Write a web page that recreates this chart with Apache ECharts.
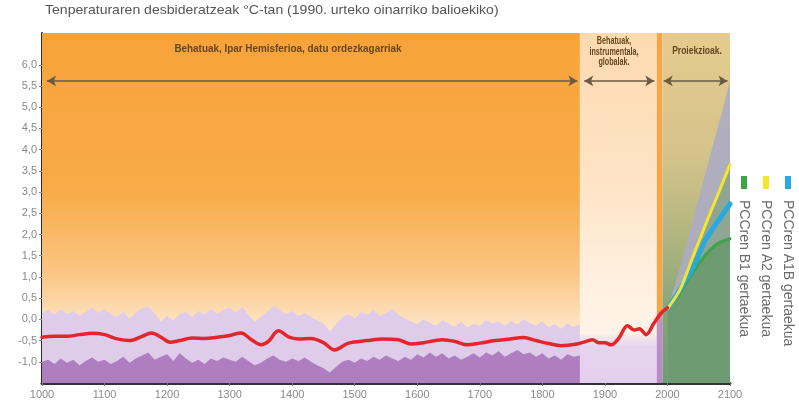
<!DOCTYPE html>
<html><head><meta charset="utf-8">
<script src="https://cdn.jsdelivr.net/npm/echarts@6/dist/echarts.min.js"></script>
<style>html,body{margin:0;padding:0;background:#fff}#c{width:799px;height:403px}</style>
</head><body><div id="c"></div>
<script>
// ---------- DATA ----------
const titleText = 'Tenperaturaren desbideratzeak °C-tan (1990. urteko oinarriko balioekiko)';
const periodLabels = ['Behatuak, Ipar Hemisferioa, datu ordezkagarriak', 'Behatuak,\ninstrumentala,\nglobalak.', 'Proiekzioak.'];
const scenarioNames = ['PCCren A1B gertaekua', 'PCCren A2 gertaekua', 'PCCren B1 gertaekua'];
const yTickValues = [-1, -0.5, 0, 0.5, 1, 1.5, 2, 2.5, 3, 3.5, 4, 4.5, 5, 5.5, 6];
const xTickValues = [1000, 1100, 1200, 1300, 1400, 1500, 1600, 1700, 1800, 1900, 2000, 2100];

// period boundaries (years)
const proxyPeriod = [1000, 1860];
const instrPeriod = [1860, 1983];
const stripPeriod = [1983, 1992];
const projPeriod = [1992, 2100];
const arrowLevel = 5.62;
const arrowSpans = [[1008, 1856], [1867, 1979], [1994, 2096]];

// reconstructed + instrumental smoothed temperature (red)
const recYears = [1000,1020,1040,1060,1080,1100,1120,1140,1160,1175,1190,1205,1220,1240,1260,1280,1300,1318,1335,1350,1362,1378,1395,1410,1430,1450,1468,1490,1520,1545,1570,1590,1610,1640,1660,1680,1700,1725,1745,1770,1790,1810,1830,1855,1870,1880,1890,1900,1910,1922,1936,1947,1955,1966,1978,1990,2000];
const recValues = [-0.42,-0.40,-0.40,-0.36,-0.33,-0.36,-0.46,-0.50,-0.40,-0.32,-0.42,-0.54,-0.50,-0.44,-0.45,-0.42,-0.38,-0.32,-0.48,-0.60,-0.52,-0.27,-0.42,-0.46,-0.45,-0.55,-0.72,-0.56,-0.50,-0.46,-0.48,-0.58,-0.55,-0.48,-0.52,-0.60,-0.56,-0.50,-0.47,-0.43,-0.50,-0.57,-0.62,-0.58,-0.52,-0.48,-0.55,-0.55,-0.60,-0.45,-0.15,-0.25,-0.22,-0.36,-0.10,0.15,0.27];

// uncertainty band (proxy period)
const bandYears = [1000,1010,1020,1030,1040,1050,1060,1070,1080,1090,1100,1110,1120,1130,1140,1150,1160,1170,1180,1190,1200,1210,1220,1230,1240,1250,1260,1270,1280,1290,1300,1310,1320,1330,1340,1350,1360,1370,1380,1390,1400,1410,1420,1430,1440,1450,1460,1470,1480,1490,1500,1510,1520,1530,1540,1550,1560,1570,1580,1590,1600,1610,1620,1630,1640,1650,1660,1670,1680,1690,1700,1710,1720,1730,1740,1750,1760,1770,1780,1790,1800,1810,1820,1830,1840,1850,1860];
const bandUpper = [0.15,0.22,0.10,0.25,0.12,0.20,0.08,0.18,0.28,0.15,0.25,0.12,0.05,0.18,0.02,0.15,0.26,0.30,0.14,-0.05,0.08,-0.02,0.12,0.18,0.05,0.20,0.10,0.25,0.12,0.22,0.28,0.15,0.30,0.10,-0.05,0.05,0.18,0.32,0.22,0.12,0.20,0.08,0.15,0.05,-0.02,-0.10,-0.28,-0.12,0.05,0.12,0.02,0.18,0.10,0.22,0.08,0.15,0.25,0.10,0.02,-0.05,-0.12,0.00,-0.08,-0.15,-0.02,-0.10,-0.18,-0.05,-0.20,-0.10,-0.15,-0.02,-0.10,-0.05,-0.15,-0.05,-0.12,0.00,-0.08,-0.15,-0.05,-0.18,-0.12,-0.22,-0.10,-0.18,-0.12];
const bandLower = [-1.00,-0.95,-1.05,-0.92,-1.02,-0.95,-1.08,-0.98,-0.90,-1.00,-0.95,-1.05,-0.98,-0.88,-1.02,-0.92,-0.85,-0.78,-0.95,-0.88,-0.82,-0.98,-0.80,-0.92,-1.02,-0.95,-1.05,-0.92,-0.98,-0.90,-0.95,-1.00,-0.88,-0.98,-1.08,-1.02,-0.92,-0.85,-0.95,-1.00,-0.92,-0.98,-0.90,-1.00,-1.08,-1.15,-1.25,-1.12,-1.00,-0.95,-1.02,-0.92,-0.98,-0.88,-0.95,-0.85,-0.92,-0.98,-0.88,-0.95,-0.82,-0.90,-0.78,-0.88,-0.80,-0.92,-0.85,-0.95,-0.88,-0.80,-0.90,-0.78,-0.85,-0.75,-0.88,-0.80,-0.72,-0.82,-0.78,-0.88,-0.80,-0.92,-0.85,-0.95,-0.82,-0.88,-0.85];
const instrBandTop = -0.35;
const stripBandTop = 0.2;

// projections
const projYears = [2000, 2020, 2040, 2060, 2080, 2100];
const scenA2 = [0.25, 0.70, 1.45, 2.20, 2.92, 3.65];
const scenA1B = [0.25, 0.70, 1.20, 1.85, 2.30, 2.72];
const scenB1 = [0.25, 0.62, 1.10, 1.50, 1.78, 1.90];
const projUpper = [0.25, 1.20, 2.30, 3.40, 4.50, 5.60];

// ---------- CHART ----------
const pairs = (xs, ys) => xs.map((x, i) => [x, ys[i]]);
const G = (stops) => new echarts.graphic.LinearGradient(0, 0, 0, 1, stops.map(s => ({offset: s[0], color: s[1]})));
const FONT = '"Liberation Sans", Arial, sans-serif';

const chart = echarts.init(document.getElementById('c'), null, {renderer: 'canvas'});
const areaSeries = (name, xs, ys, color, z) => ({
  name, type: 'line', data: pairs(xs, ys), showSymbol: false, symbol: 'none', silent: true,
  lineStyle: {width: 0, opacity: 0}, areaStyle: {color, opacity: 1, origin: 'start'}, z, animation: false
});
const lineSeries = (name, xs, ys, color, width, z, smooth) => ({
  name, type: 'line', data: pairs(xs, ys), showSymbol: false, symbol: 'none', silent: true, smooth,
  lineStyle: {width, color, cap: 'round', join: 'round'}, z, animation: false
});
const centerText = (x, y, sx, text, font, lineHeight) => ({
  type: 'text', x, y, scaleX: sx, z: 100, zlevel: 1,
  style: {text, fill: '#654722', font: font + ' ' + FONT, lineHeight: lineHeight, align: 'center', verticalAlign: 'middle', textAlign: 'center', textVerticalAlign: 'middle'}
});
const vertText = (x, y, text) => ({
  type: 'text', x, y, rotation: -Math.PI / 2, z: 100, zlevel: 1,
  style: {text, fill: '#6a6a6a', font: '14px ' + FONT, align: 'left', verticalAlign: 'middle', textAlign: 'left', textVerticalAlign: 'middle'}
});

const option = {
  animation: false,
  backgroundColor: '#ffffff',
  grid: {left: 42, right: 69, top: 33, bottom: 20},
  xAxis: {
    type: 'value', min: 1000, max: 2100, interval: 100,
    axisLine: {show: true, onZero: false, lineStyle: {color: '#333', width: 3}},
    axisTick: {show: true, length: 3, lineStyle: {color: '#777'}},
    axisLabel: {color: '#8a8a8a', fontSize: 11, fontFamily: FONT, margin: 6, customValues: xTickValues, formatter: v => String(v)},
    splitLine: {show: false}
  },
  yAxis: {
    type: 'value', min: -1.5, max: 6.75, interval: 0.5,
    axisLine: {show: true, onZero: false, lineStyle: {color: '#2b2b2b', width: 2}},
    axisTick: {show: true, length: 3, lineStyle: {color: '#8a8a8a'}, customValues: yTickValues},
    axisLabel: {color: '#8a8a8a', fontSize: 11, fontFamily: FONT, margin: 5, customValues: yTickValues,
      formatter: v => v.toFixed(1).replace('.', ',')},
    splitLine: {show: false}
  },
  series: [
    {
      name: 'bg', type: 'line', data: [[1000, -1.5]], symbol: 'none', lineStyle: {width: 0}, silent: true, z: 0,
      markArea: {
        silent: true,
        data: [
          [{xAxis: proxyPeriod[0], itemStyle: {color: G([[0, '#F7A33A'], [0.45, '#F8AB48'], [0.68, '#FAC583'], [0.8, '#FDDDB5'], [0.88, '#FEEAD0'], [1, '#FFF1E0']])}}, {xAxis: proxyPeriod[1]}],
          [{xAxis: instrPeriod[0], itemStyle: {color: G([[0, '#FDDAB0'], [0.4, '#FEE3C4'], [0.75, '#FFF1E2'], [1, '#FFF6EE']])}}, {xAxis: instrPeriod[1]}],
          [{xAxis: stripPeriod[0], itemStyle: {color: '#F6A646'}}, {xAxis: stripPeriod[1]}],
          [{xAxis: projPeriod[0], itemStyle: {color: G([[0, '#E6CB8E'], [0.35, '#D4C38A'], [0.6, '#AEB47F'], [0.8, '#85A577'], [1, '#6E9B71']])}}, {xAxis: projPeriod[1]}],
          [{xAxis: instrPeriod[0], yAxis: -1.5, itemStyle: {color: G([[0, 'rgba(228,210,238,0.2)'], [0.25, '#E6D4EE'], [1, '#E3CFEC']])}}, {xAxis: instrPeriod[1], yAxis: instrBandTop}],
          [{xAxis: stripPeriod[0], yAxis: -1.5, itemStyle: {color: G([[0, 'rgba(180,140,200,0.3)'], [0.2, '#B992CB'], [1, '#B48BC6']])}}, {xAxis: stripPeriod[1], yAxis: stripBandTop}]
        ]
      }
    },
    areaSeries('bandUpper', bandYears, bandUpper, '#DFCCEB', 2),
    areaSeries('bandLower', bandYears, bandLower, '#AE7EC0', 3),
    areaSeries('projRange', projYears, projUpper, 'rgba(172,172,195,0.9)', 4),
    areaSeries('a2fill', projYears, scenA2, 'rgba(118,160,116,0.55)', 5),
    areaSeries('b1fill', projYears, scenB1, '#6E9B71', 6),
    lineSeries('B1', projYears, scenB1, '#3BA548', 3, 10, 0.3),
    lineSeries('A1B', projYears, scenA1B, '#2AA8E0', 5, 11, 0.3),
    lineSeries('A2', projYears, scenA2, '#F4E62A', 3, 12, 0.3),
    lineSeries('obs', recYears, recValues, '#E4252C', 3.5, 13, 0.35),
    {
      name: 'arrows', type: 'line', data: [[1000, -1.5]], symbol: 'none', lineStyle: {width: 0}, silent: true, z: 14,
      markLine: {
        silent: true, symbol: ['arrow', 'arrow'], symbolSize: [8, 9],
        label: {show: false},
        lineStyle: {color: '#6a5a44', width: 1.5, type: 'solid'},
        data: arrowSpans.map(s => [{coord: [s[0], arrowLevel]}, {coord: [s[1], arrowLevel]}])
      }
    }
  ],
  graphic: [
    {type: 'text', x: 45, y: 4, scaleX: 1.08, z: 100, style: {text: titleText, fill: '#555', font: '13px ' + FONT}},
    centerText(288, 49, 0.9, periodLabels[0], 'bold 11px', 13),
    centerText(614, 52, 0.72, periodLabels[1], 'bold 10px', 10.5),
    centerText(697, 51, 0.85, periodLabels[2], 'bold 10px', 12),
    {type: 'rect', z: 100, shape: {x: 741, y: 176, width: 6, height: 13}, style: {fill: '#3BA548'}},
    {type: 'rect', z: 100, shape: {x: 763, y: 176, width: 6, height: 13}, style: {fill: '#F4E62A'}},
    {type: 'rect', z: 100, shape: {x: 785, y: 176, width: 6, height: 13}, style: {fill: '#2AA8E0'}},
    vertText(744, 200, scenarioNames[2]),
    vertText(766, 200, scenarioNames[1]),
    vertText(788, 200, scenarioNames[0])
  ]
};
chart.setOption(option);
</script>
</body></html>
